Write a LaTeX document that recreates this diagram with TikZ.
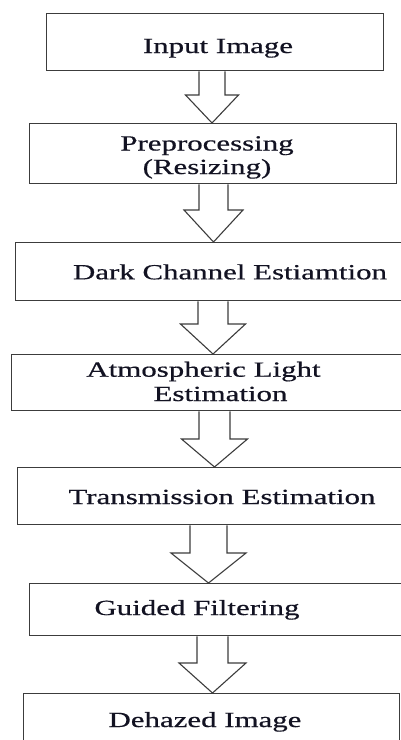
\documentclass[tikz,border=0pt]{standalone}
\usepackage{graphicx}
\usepackage{fontspec}
\setmainfont{Liberation Serif}
\newfontfamily\labfont{Liberation Serif}[FakeBold=0.45]
\usetikzlibrary{calc}
\definecolor{txt}{RGB}{18,18,34}
\definecolor{edge}{RGB}{60,60,60}
\newcommand\wide[1]{\scalebox{1.43}[1]{#1}}
% block arrow from node #1 to node #2: centre x #3, shaft half width #4, head half width #5, head base y #6
\newcommand\barrow[6]{%
  \draw[barrowstyle] let \p1=(#1.south), \p2=(#2.north) in
    (#3pt-#4pt,\y1) -- (#3pt-#4pt,#6pt) -- (#3pt-#5pt,#6pt) -- (#3pt,\y2)
    -- (#3pt+#5pt,#6pt) -- (#3pt+#4pt,#6pt) -- (#3pt+#4pt,\y1);}
\begin{document}
\begin{tikzpicture}[x=1pt,y=1pt,
  box/.style={draw=edge, line width=1.4pt, fill=white, rectangle, anchor=north west, inner sep=0pt},
  label/.style={anchor=base, inner sep=0pt, text=txt, font=\labfont\fontsize{21.6}{24}\selectfont},
  barrowstyle/.style={draw=edge, line width=1.1pt, fill=white, line join=miter}]
\useasboundingbox (0,0) rectangle (401,-740);
\clip (0,0) rectangle (401,-740);
\fill[white] (0,0) rectangle (401,-740);
% boxes
\node[box, minimum width=337, minimum height=57] (b1) at (46,-13) {};
\node[box, minimum width=367, minimum height=60] (b2) at (29,-123) {};
\node[box, minimum width=400, minimum height=58] (b3) at (15,-242) {};
\node[box, minimum width=400, minimum height=56] (b4) at (11,-354) {};
\node[box, minimum width=400, minimum height=57] (b5) at (17,-467) {};
\node[box, minimum width=400, minimum height=52] (b6) at (29,-583) {};
\node[box, minimum width=376, minimum height=60] (b7) at (23,-693) {};
% texts
\node[label] (t1) at (218,-53) {\wide{Input Image}};
\node[label] (t2a) at (207,-150.5) {\wide{Preprocessing}};
\node[label] (t2b) at (207,-174) {\wide{(Resizing)}};
\node[label] (t3) at (230,-279.3) {\wide{Dark Channel Estiamtion}};
\node[label] (t4a) at (203.5,-376.7) {\wide{Atmospheric Light}};
\node[label] (t4b) at (220.5,-401) {\wide{Estimation}};
\node[label] (t5) at (222,-504) {\wide{Transmission Estimation}};
\node[label] (t6) at (197,-615) {\wide{Guided Filtering}};
\node[label] (t7) at (205,-727) {\wide{Dehazed Image}};
% block arrows
\barrow{b1}{b2}{212}{13}{26.5}{-95}
\barrow{b2}{b3}{213.5}{14.5}{29.5}{-210}
\barrow{b3}{b4}{213}{15}{32.5}{-324}
\barrow{b4}{b5}{214.5}{15.5}{33}{-439}
\barrow{b5}{b6}{208.5}{18.5}{37.5}{-553}
\barrow{b6}{b7}{212.5}{15.5}{33.5}{-663}
\end{tikzpicture}
\end{document}
